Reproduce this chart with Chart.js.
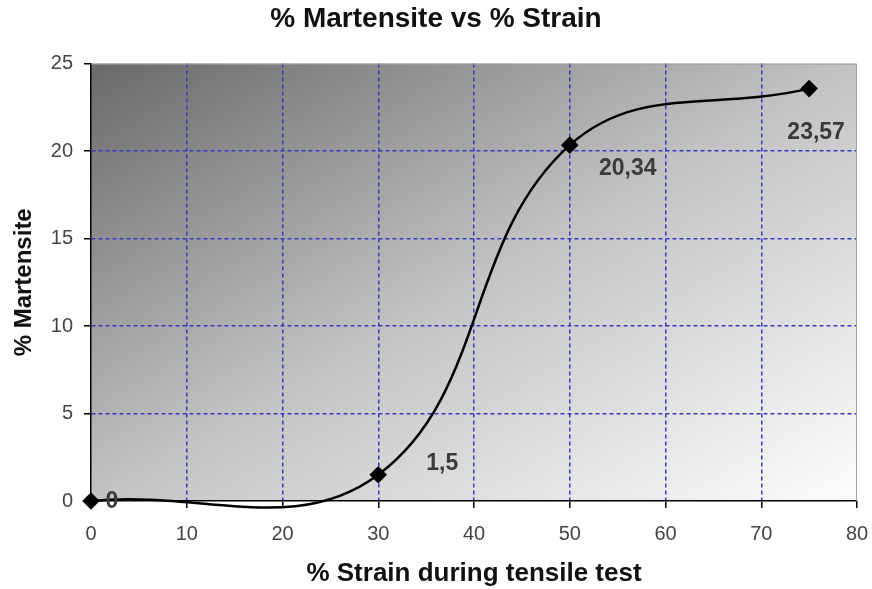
<!DOCTYPE html>
<html>
<head>
<meta charset="utf-8">
<script src="https://cdn.jsdelivr.net/npm/chart.js@4/dist/chart.umd.min.js"></script>
<style>
  html, body { margin: 0; padding: 0; background: #fff; }
  #wrap { width: 872px; height: 589px; }
</style>
</head>
<body>
<div id="wrap"><canvas id="chart" width="872" height="589"></canvas></div>
<script>
// values
const strain = [0, 30, 50, 75];
const martensite = [0, 1.5, 20.34, 23.57];
const pointLabels = ["0", "1,5", "20,34", "23,57"];
const xTicks = [0, 10, 20, 30, 40, 50, 60, 70, 80];
const yTicks = [0, 5, 10, 15, 20, 25];

const FONT = "Arial, 'Liberation Sans', sans-serif";

// plot background: diagonal gray gradient + gray top/right frame
const plotBackground = {
    id: "plotBackground",
    beforeDraw(chart) {
        const { ctx, chartArea: a } = chart;
        ctx.save();
        ctx.translate(a.left, a.top);
        ctx.scale(a.right - a.left, a.bottom - a.top);
        const g = ctx.createLinearGradient(0, 0, 1, 1);
        g.addColorStop(0, "#696969");
        g.addColorStop(0.5, "#c3c3c3");
        g.addColorStop(1, "#fdfdfd");
        ctx.fillStyle = g;
        ctx.fillRect(0, 0, 1, 1);
        ctx.restore();
    },
    afterDatasetsDraw(chart) {
        const { ctx, chartArea: a } = chart;
        ctx.save();
        ctx.strokeStyle = "#a0a0a0";
        ctx.lineWidth = 1;
        ctx.beginPath();
        ctx.moveTo(a.left, a.top + 0.5);
        ctx.lineTo(a.right - 0.5, a.top + 0.5);
        ctx.lineTo(a.right - 0.5, a.bottom);
        ctx.stroke();
        ctx.restore();
    }
};

// data labels next to each point
const valueLabels = {
    id: "valueLabels",
    afterDatasetsDraw(chart) {
        const { ctx } = chart;
        const meta = chart.getDatasetMeta(0);
        const offsets = [[21, 1], [64, -11], [58, 24], [7, 44]];
        ctx.save();
        ctx.font = "bold 23px " + FONT;
        ctx.fillStyle = "#3a3a3a";
        ctx.textAlign = "center";
        ctx.textBaseline = "middle";
        meta.data.forEach((p, i) => {
            ctx.fillText(pointLabels[i], p.x + offsets[i][0], p.y + offsets[i][1]);
        });
        ctx.restore();
    }
};

new Chart(document.getElementById("chart"), {
    type: "line",
    data: {
        datasets: [{
            data: strain.map((x, i) => ({ x: x, y: martensite[i] })),
            borderColor: "#000",
            borderWidth: 2.5,
            tension: 0.4,
            pointStyle: "rectRot",
            pointRadius: 7,
            pointBackgroundColor: "#000",
            pointBorderColor: "#000",
            clip: false
        }]
    },
    options: {
        responsive: false,
        animation: false,
        elements: { line: { capBezierPoints: false } },
        layout: { padding: { left: 0, right: 0, top: 2, bottom: 0 } },
        plugins: {
            legend: { display: false },
            tooltip: { enabled: false },
            title: {
                display: true,
                text: "% Martensite vs % Strain",
                color: "#111",
                font: { family: FONT, size: 28, weight: "bold" },
                padding: { top: 0, bottom: 28 }
            }
        },
        scales: {
            x: {
                type: "linear",
                min: 0, max: 80,
                afterBuildTicks: s => { s.ticks = xTicks.map(v => ({ value: v })); },
                afterFit: s => { s.height = 88; s.paddingRight = 15; s.paddingLeft = 0; },
                border: { color: "#000", width: 1.5, dash: [4, 3] },
                grid: {
                    color: c => (c.tick.value === 0 || c.tick.value === 80) ? "rgba(0,0,0,0)" : "#3a3ac0",
                    lineWidth: 1.5,
                    tickColor: "#000",
                    tickBorderDash: [],
                    tickLength: 7
                },
                ticks: { color: "#444", font: { family: FONT, size: 20 }, padding: 14 },
                title: {
                    display: true,
                    text: "% Strain during tensile test",
                    color: "#111",
                    font: { family: FONT, size: 26, weight: "bold" },
                    padding: { top: 0, bottom: 0 }
                }
            },
            y: {
                min: 0, max: 25,
                afterBuildTicks: s => { s.ticks = yTicks.map(v => ({ value: v })); },
                afterFit: s => { s.width = 91; },
                border: { color: "#000", width: 1.5, dash: [4, 3] },
                grid: {
                    color: c => (c.tick.value === 0 || c.tick.value === 25) ? "rgba(0,0,0,0)" : "#3a3ac0",
                    lineWidth: 1.5,
                    tickColor: "#000",
                    tickBorderDash: [],
                    tickLength: 7
                },
                ticks: { color: "#444", font: { family: FONT, size: 20 }, padding: 11 },
                title: {
                    display: true,
                    text: "% Martensite",
                    color: "#111",
                    font: { family: FONT, size: 24, weight: "bold" },
                    padding: { top: 10, bottom: 0 }
                }
            }
        }
    },
    plugins: [plotBackground, valueLabels]
});
</script>
</body>
</html>
